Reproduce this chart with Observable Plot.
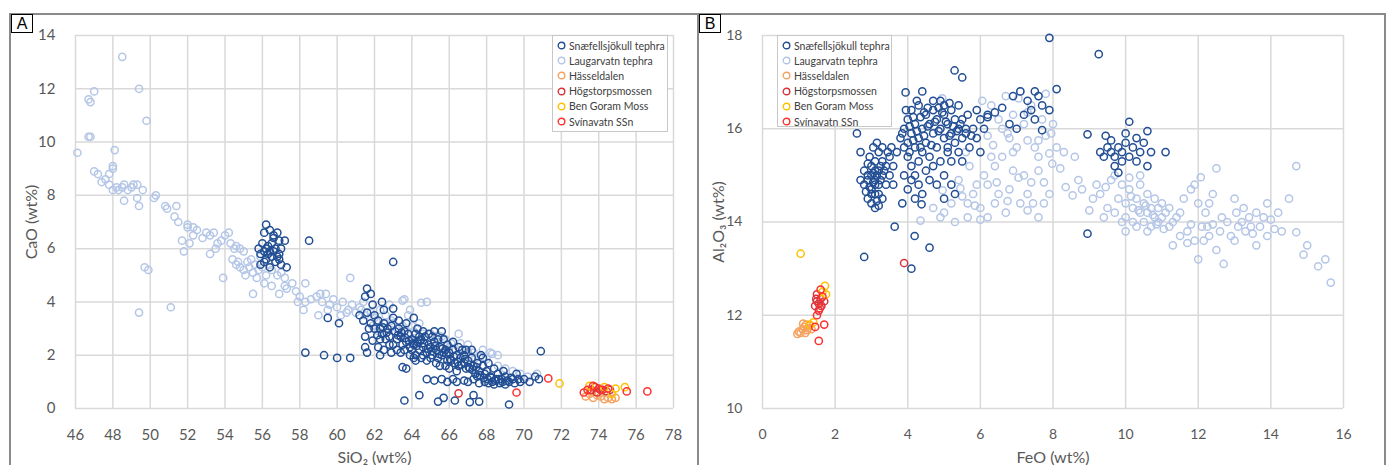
<!DOCTYPE html>
<html><head><meta charset="utf-8">
<script src="https://cdn.jsdelivr.net/npm/d3@7"></script>
<script src="https://cdn.jsdelivr.net/npm/@observablehq/plot@0.6"></script>
<style>
body{margin:0;background:#fff;font-family:Lato,"Open Sans",sans-serif;}
#wrap{position:relative;width:1389px;height:465px;overflow:hidden;background:#fff;}
.frame{position:absolute;top:13px;height:470px;border:2px solid #8a8a8a;box-sizing:border-box;}
.tag{position:absolute;top:14px;width:22px;height:19px;border:1.5px solid #000;box-sizing:border-box;background:#fff;font:16px "Liberation Sans",Arial,sans-serif;line-height:17px;text-align:center;color:#000;z-index:3;}
.chart{position:absolute;top:14px;}
.legend{position:absolute;background:#fff;border:1px solid #c8c8c8;box-sizing:border-box;z-index:2;padding:2px 0 0 4px;}
.legend div{height:15.2px;display:flex;align-items:center;font-size:10.5px;color:#404040;white-space:nowrap;}
.legend svg{margin-right:3px;}
g[aria-label="x-axis label"] text, g[aria-label="y-axis label"] text{font-size:16px;}
</style></head>
<body><div id="wrap"></div>
<script>
// ---------- series names & colours ----------
const seriesNames = ["Snæfellsjökull tephra","Laugarvatn tephra","Hässeldalen","Högstorpsmossen","Ben Goram Moss","Svínavatn SSn"];
const seriesColors = ["#224e94","#b4c6e7","#f5a25f","#d9343c","#ffc000","#ff3030"];

// ---------- axis ticks ----------
const xTicksA = [46,48,50,52,54,56,58,60,62,64,66,68,70,72,74,76,78];
const yTicksA = [0,2,4,6,8,10,12,14];
const xTicksB = [0,2,4,6,8,10,12,14,16];
const yTicksB = [10,12,14,16,18];

// ---------- Panel A : SiO2 vs CaO ----------
const laugA = [[46.1,9.6],[46.7,11.6],[46.8,11.5],[47.0,11.9],[46.7,10.2],[46.8,10.2],[47.0,8.9],[47.2,8.8],[47.4,8.5],[47.6,8.6],[47.8,8.4],[47.8,8.8],[48.0,9.0],[48.0,9.1],[48.1,9.7],[48.0,8.2],[48.2,8.3],[48.3,8.2],[48.5,8.3],[48.6,7.8],[48.6,8.4],[48.8,8.2],[49.0,8.3],[49.1,8.4],[49.3,8.4],[49.3,7.9],[49.4,7.6],[49.4,12.0],[48.5,13.2],[49.8,10.8],[49.6,8.2],[50.2,7.9],[50.3,8.0],[50.8,7.6],[50.9,7.5],[51.3,7.2],[51.5,7.0],[51.4,7.6],[52.0,6.9],[52.0,6.8],[52.3,6.8],[52.5,6.7],[51.7,6.3],[51.8,5.9],[52.1,6.2],[52.3,6.5],[52.8,6.4],[53.0,6.6],[53.2,6.5],[53.4,6.6],[53.6,6.2],[53.8,6.3],[54.0,6.5],[54.2,6.6],[54.3,6.2],[53.5,6.0],[53.2,5.8],[54.5,6.0],[54.6,6.1],[54.8,6.0],[55.0,5.9],[54.4,5.6],[54.6,5.4],[54.8,5.3],[55.0,5.2],[55.2,5.5],[55.3,5.3],[55.5,5.1],[55.6,5.4],[55.8,5.2],[56.0,5.3],[56.2,5.0],[56.4,5.4],[55.4,5.6],[55.9,5.7],[56.5,5.2],[56.8,5.0],[57.0,5.1],[57.2,4.9],[54.7,5.5],[55.1,5.0],[55.7,4.9],[56.1,4.7],[56.5,4.6],[57.2,4.6],[57.3,4.5],[57.6,4.7],[57.8,4.4],[58.0,4.2],[58.3,4.0],[58.6,4.1],[58.9,4.2],[59.2,4.0],[59.4,4.3],[59.6,3.9],[59.8,4.1],[60.0,3.8],[60.3,4.0],[60.6,3.7],[60.8,3.9],[61.0,3.6],[61.2,3.8],[61.5,3.5],[61.8,3.6],[62.0,3.4],[62.3,3.7],[62.6,3.2],[62.9,3.3],[63.2,3.0],[63.5,3.1],[63.8,3.5],[64.1,2.9],[64.4,3.2],[64.7,2.6],[65.0,2.8],[65.3,2.4],[65.6,2.7],[66.0,2.3],[66.3,2.2],[66.7,2.0],[67.0,2.4],[67.4,1.9],[67.8,2.2],[68.2,2.1],[68.6,1.6],[69.0,1.5],[69.4,1.4],[69.8,1.3],[70.2,1.2],[70.7,1.3],[60.7,4.9],[58.3,4.7],[59.1,4.3],[51.1,3.8],[49.4,3.6],[49.9,5.2],[49.7,5.3],[53.9,4.9],[55.5,4.3],[58.2,3.7],[59.0,3.5],[63.5,4.05],[64.5,3.97],[64.8,4.0],[63.6,4.1],[62.5,2.8],[64.0,2.5],[65.8,2.6],[66.5,2.8],[67.3,2.1],[68.6,2.0],[68.3,2.05],[65.2,2.3],[63.9,3.7],[62.8,3.9],[61.4,4.0],[60.2,3.5],[59.5,3.7],[57.9,4.0],[56.9,4.3],[61.9,3.1],[62.2,2.9],
[63.0,3.2],[63.6,3.0],[64.0,3.1],[64.6,2.8],[65.0,2.55],[65.4,2.75],[66.1,2.45],[66.6,2.45],[67.0,2.15],[67.6,1.95],[68.0,1.85],[62.1,3.3],[62.6,3.5],[61.3,3.7],[60.5,3.6]];

const snaeA = [[56.2,6.9],[56.1,6.6],[56.4,6.7],[56.6,6.5],[56.8,6.6],[56.9,6.3],[57.2,6.3],[56.0,6.2],[56.3,6.1],[56.5,6.2],[56.7,6.0],[55.8,6.0],[55.9,5.8],[56.1,5.9],[56.2,6.0],[56.3,5.8],[56.4,5.9],[56.5,5.7],[56.6,5.9],[56.8,5.7],[56.9,5.8],[56.2,5.6],[56.7,5.5],[56.9,5.6],[57.0,5.4],[57.3,5.3],[56.4,5.3],[56.1,5.5],[55.9,5.4],[57.0,6.0],[58.5,6.3],[56.6,6.4],
[58.3,2.1],[59.3,2.0],[60.0,1.9],[60.7,1.9],[59.5,3.4],[60.1,3.2],[61.5,4.2],[61.6,4.5],[61.8,4.3],[61.9,3.9],[62.4,4.0],[62.5,3.7],[63.0,3.75],[63.0,5.5],[63.0,3.4],[64.1,3.4],[61.9,2.55],[61.5,2.3],[61.6,2.1],[62.3,2.0],[63.5,1.55],[63.7,1.5],[64.2,1.8],[63.6,0.3],[64.4,0.5],[65.4,0.26],[65.7,0.4],[66.3,0.3],[67.1,0.24],[67.3,0.5],[67.6,0.26],[69.2,0.15],[70.9,2.15],
[61.2,3.5],[61.4,3.3],[61.6,3.6],[61.8,3.2],[62.0,3.5],[61.7,3.0],[62.0,3.0],[61.5,2.7],
[62.2,3.3],[62.3,3.0],[62.4,2.8],[62.5,3.2],[62.6,2.6],[62.7,3.0],[62.8,2.7],[62.9,3.1],[62.2,2.3],[62.5,2.2],[62.8,2.4],[62.9,2.1],[62.3,2.6],
[63.1,2.9],[63.2,2.6],[63.3,3.0],[63.4,2.7],[63.5,2.4],[63.6,2.9],[63.7,2.5],[63.8,2.8],[63.9,2.3],[63.2,2.2],[63.4,2.1],[63.6,2.2],[63.9,2.0],[63.3,3.3],[63.7,3.2],[63.0,2.4],
[64.0,2.6],[64.1,2.4],[64.2,2.8],[64.3,2.5],[64.4,2.2],[64.5,2.6],[64.6,2.3],[64.7,2.7],[64.8,2.1],[64.9,2.4],[64.2,2.0],[64.5,1.9],[64.8,1.8],[64.3,3.0],[64.6,2.9],[64.0,2.2],[64.4,2.7],[64.9,2.8],[64.1,1.9],[64.6,2.0],
[65.0,2.3],[65.1,2.0],[65.2,2.5],[65.3,2.2],[65.4,1.9],[65.5,2.3],[65.6,2.0],[65.7,2.6],[65.8,2.2],[65.9,1.8],[65.1,2.7],[65.4,2.6],[65.6,2.9],[65.3,1.7],[65.8,1.6],[65.0,1.9],[65.9,2.4],[65.2,2.9],[65.5,1.6],[65.7,2.1],
[66.0,2.1],[66.1,1.8],[66.2,2.2],[66.3,1.7],[66.4,2.0],[66.5,1.6],[66.6,1.9],[66.7,2.2],[66.8,1.7],[66.9,1.5],[66.2,2.5],[66.5,2.3],[66.8,2.0],[66.0,1.5],[66.4,1.4],[66.9,2.2],
[67.0,1.8],[67.1,1.5],[67.2,1.9],[67.3,1.6],[67.4,1.3],[67.5,1.7],[67.6,1.4],[67.7,2.0],[67.8,1.6],[67.9,1.3],[67.2,2.2],[67.5,1.2],[67.8,1.9],
[68.0,1.4],[68.2,1.2],[68.4,1.5],[68.6,1.3],[68.8,1.1],[68.1,1.7],[68.5,1.1],[68.9,1.4],[68.3,1.0],
[69.0,1.2],[69.2,1.0],[69.4,1.1],[69.6,1.3],[69.8,1.0],[70.0,1.1],[70.3,1.0],[70.6,1.2],[70.8,1.1],[69.5,0.95],
[65.6,1.1],[65.9,1.0],[66.2,1.1],[66.4,1.0],[66.8,1.05],[67.0,1.0],[67.3,1.1],[67.6,0.95],[67.9,1.0],[68.1,0.95],[68.4,0.9],[68.7,0.95],[69.0,0.9],[64.8,1.1],[65.2,1.05],
[64.05,2.45],[64.25,2.35],[64.45,2.55],[64.65,2.45],[64.85,2.25],[65.05,2.15],[65.25,2.35],[65.45,2.05],[65.65,2.25],[65.85,2.05],[66.05,1.85],[66.25,1.95],[66.45,1.75],[66.65,1.65],[66.85,1.85],[67.05,1.55],[67.25,1.45],[67.45,1.55],[67.65,1.25],[67.85,1.15],[68.05,1.1],[68.25,1.15],[68.45,1.05],[68.65,1.1],[68.85,1.0],[69.1,1.05],[69.3,1.15],[69.7,1.1],[63.45,2.85],[63.65,2.65],[63.85,2.55],[63.25,2.75],[62.65,2.85],[62.45,3.05],[62.15,2.75]];

const hassA = [[73.3,0.45],[73.5,0.55],[73.7,0.4],[73.9,0.5],[74.1,0.45],[74.3,0.35],[74.5,0.4],[74.7,0.35],[73.6,0.65],[74.0,0.6],[74.9,0.4]];
const hogA  = [[73.6,0.7],[73.8,0.8],[74.0,0.75],[74.2,0.7],[74.4,0.65],[73.9,0.6],[74.6,0.7],[66.5,0.57]];
const benA  = [[71.9,0.94],[75.4,0.8],[74.9,0.75],[74.3,0.8],[73.5,0.85],[74.7,0.55]];
const svinA = [[69.6,0.6],[71.3,1.13],[75.5,0.64],[76.6,0.64],[73.4,0.7],[73.7,0.85],[74.1,0.7],[74.5,0.75],[73.2,0.6]];

// ---------- Panel B : FeO vs Al2O3 ----------
const laugB = [[4.35,14.03],[4.96,14.68],[5.45,14.72],[5.8,14.6],[6.2,14.8],[5.65,14.4],[5.2,14.4],[6.0,14.3],[6.5,14.6],[6.8,14.7],[7.2,15.0],[6.9,15.1],[6.6,15.4],[6.35,15.65],[6.2,15.85],[6.75,15.9],[7.3,15.75],[7.8,15.85],[7.9,15.47],[7.6,15.4],[7.98,15.25],[7.4,14.85],[7.75,14.85],[7.1,14.4],[7.3,14.25],[7.75,14.4],[5.65,14.1],[6.0,14.05],[6.2,14.1],[7.1,16.8],[6.7,16.7],[7.05,16.65],[4.95,16.65],[6.5,16.2],[6.9,16.3],[7.2,16.1],[7.5,15.6],[7.0,15.6],[6.4,15.2],[6.1,15.0],[5.7,15.2],[5.4,14.9],[6.7,14.2],[6.4,14.4],[7.6,14.1],[7.9,14.6],[8.1,15.6],[8.0,16.1],[7.7,16.2],[6.8,15.8],[5.9,14.8],[7.4,16.5],[7.8,16.75],[6.3,16.5],[6.05,16.6],[4.7,14.3],[5.0,14.2],[8.35,14.75],[8.54,14.57],[9.0,14.25],[8.8,14.7],[4.9,14.1],[5.3,14.0],[7.3,14.6],[7.6,15.1],
[9.3,14.6],[9.5,14.3],[9.6,14.9],[9.7,14.2],[9.8,14.5],[9.9,14.8],[10.0,14.1],[10.0,14.4],[10.1,14.7],[10.2,14.3],[10.2,14.0],[10.3,14.5],[10.4,14.2],[10.4,14.8],[10.5,14.4],[10.5,14.0],[10.6,14.6],[10.6,14.2],[10.7,14.3],[10.7,13.9],[10.8,14.5],[10.8,14.1],[10.9,14.3],[10.9,14.0],[11.0,14.4],[11.0,14.1],[11.1,14.2],[11.2,13.9],[11.2,14.3],[11.3,14.0],[10.3,13.9],[10.0,13.8],[9.9,14.0],[10.6,13.8],[11.4,14.1],[9.4,14.1],[9.2,14.8],[10.4,15.0],[9.7,15.0],[10.1,14.95],[8.2,15.15],[8.6,15.4],
[11.5,13.7],[11.7,13.8],[11.8,14.7],[11.9,13.6],[12.07,14.96],[12.1,13.9],[12.2,14.2],[12.25,13.9],[12.3,13.7],[12.5,15.15],[12.5,13.4],[12.6,13.8],[12.7,13.1],[12.8,14.0],[12.9,13.7],[13.0,14.5],[13.1,13.9],[13.25,14.3],[13.3,13.8],[13.4,14.1],[13.5,13.75],[13.6,14.2],[13.7,13.9],[13.9,14.4],[13.9,13.7],[14.1,13.85],[14.3,13.8],[14.5,14.5],[14.7,15.2],[14.7,13.78],[15.0,13.5],[14.9,13.3],[15.3,13.05],[15.5,13.2],[15.65,12.7],[11.6,14.5],[11.9,14.8],[12.0,14.4],[12.4,14.6],[13.0,13.6],[13.2,14.0],[13.6,13.5],[14.0,14.05],[11.3,13.5],[11.8,13.95],[12.4,13.95],[12.0,13.2],
[6.6,16.0],[6.9,15.5],[7.3,16.35],[7.6,15.75],[7.95,15.9],[6.45,14.85],[6.75,14.45],[7.05,14.95],[7.45,14.4],[5.5,14.55],[5.85,14.35],[8.3,15.5],[8.7,14.9],[9.1,14.5],[9.45,14.75],[10.15,14.55],[10.35,14.25],[10.55,14.35],[10.75,14.15],[10.85,13.95],[11.05,13.85],[11.5,14.2],[12.15,13.6],[12.65,14.1],[13.05,14.2],[13.45,13.9],[13.8,14.1],[14.2,14.2],[12.3,14.4],[11.7,13.55],[5.6,15.5],[6.3,15.4]];

const snaeB = [[2.8,14.8],[2.9,15.0],[3.0,14.7],[3.1,14.9],[3.2,15.1],[3.0,15.2],[2.9,14.5],[3.1,14.6],[3.2,14.8],[3.3,15.0],[3.0,14.4],[3.1,15.3],[3.2,15.5],[3.3,15.3],[3.4,15.2],[3.4,14.8],[2.8,15.1],[2.9,14.9],[3.0,15.0],[3.1,15.1],[3.2,14.6],[3.3,14.5],[3.0,14.6],[3.1,14.8],[2.95,15.4],[3.05,15.6],[3.15,15.7],[3.5,15.4],[3.6,15.2],[3.7,15.5],[3.5,15.0],[3.3,15.6],[2.7,14.9],[3.1,14.3],[3.2,14.35],[2.6,15.9],[2.7,15.5],[3.6,14.8],[3.9,15.0],[3.85,14.4],
[3.8,15.8],[3.9,16.0],[4.0,15.7],[4.0,16.2],[4.1,15.9],[4.1,16.4],[4.2,15.6],[4.2,16.1],[4.3,15.8],[4.3,16.5],[4.4,16.0],[4.4,15.5],[4.5,16.3],[4.5,15.7],[4.6,16.1],[4.6,15.4],[4.7,16.4],[4.7,15.9],[4.8,16.2],[4.8,15.6],[4.9,16.0],[4.9,16.6],[5.0,15.8],[5.0,16.3],[5.1,16.1],[5.1,15.5],[5.2,16.4],[5.2,15.9],[5.3,16.2],[5.3,15.7],[5.4,16.0],[5.4,16.5],[5.5,15.8],[5.5,16.2],[5.6,16.0],[5.6,15.9],[3.9,15.6],[4.0,15.4],[4.1,15.2],[4.2,15.0],[4.3,14.8],[4.4,14.6],[4.2,14.5],[4.5,15.1],[4.6,14.9],[4.7,15.2],[4.8,14.8],[4.9,15.3],[5.0,15.0],[4.1,14.9],[4.0,14.7],[4.3,15.3],[3.95,16.4],[4.25,16.6],[4.4,16.8],[3.94,16.78],[4.7,16.6],[5.0,16.5],[5.29,17.25],[5.5,17.1],[4.38,14.38],[4.19,13.7],[3.64,13.9],[4.6,13.45],[4.1,13.0],[2.8,13.25],
[5.1,15.6],[5.2,15.3],[5.4,15.5],[5.5,15.3],[5.7,15.6],[5.8,16.0],[5.9,15.8],[6.0,16.2],[5.9,16.4],[6.1,16.0],[6.2,16.3],[6.0,15.5],[5.0,14.5],[5.2,14.8],[5.3,14.6],
[6.2,16.25],[6.4,16.35],[6.6,16.45],[6.9,16.7],[7.1,16.8],[7.3,16.6],[7.5,16.8],[7.7,16.5],[7.2,16.3],[7.4,16.4],[8.1,16.85],[7.9,17.95],[6.8,16.1],[7.0,16.0],[7.7,15.97],[7.5,16.2],[7.9,16.4],[7.6,16.7],
[9.26,17.6],[8.95,15.88],[8.95,13.75],[9.3,15.5],[9.4,15.4],[9.5,15.6],[9.6,15.5],[9.7,15.4],[9.8,15.6],[9.9,15.5],[10.0,15.7],[10.1,15.4],[10.2,15.6],[10.3,15.8],[10.4,15.5],[10.5,15.7],[10.6,15.95],[10.1,16.15],[9.8,15.06],[9.7,15.2],[10.6,15.2],[11.1,15.5],[10.7,15.5],[9.6,15.75],[10.0,15.9],[10.3,15.3],[9.9,15.3],[9.45,15.85],
[4.05,16.05],[4.15,15.75],[4.25,15.95],[4.35,16.25],[4.45,15.85],[4.55,16.05],[4.65,15.65],[4.75,16.15],[4.85,15.95],[4.95,16.35],[5.05,16.15],[5.15,15.85],[5.25,16.05],[5.35,15.95],[5.45,16.1],[4.55,16.45],[4.35,15.6],[3.85,15.9],[4.05,15.5],[4.85,16.45],[5.15,16.55],[5.65,16.3],[5.75,15.85],[4.15,16.25],[4.45,16.35],[2.95,14.75],[3.05,14.85],[3.15,15.0],[3.25,14.9],[3.05,15.05],[2.85,14.65],[3.35,15.1],[3.15,14.45],[3.45,15.5],[3.55,15.6],[3.25,15.2],[2.9,15.25]];

const hassB = [[0.96,11.6],[1.05,11.62],[1.1,11.7],[1.15,11.75],[1.2,11.8],[1.25,11.72],[1.3,11.78],[1.0,11.65],[1.18,11.62],[1.35,11.7],[1.12,11.82],[1.22,11.68]];
const hogB  = [[1.45,12.2],[1.5,12.3],[1.55,12.25],[1.6,12.35],[1.5,12.45],[1.62,12.2],[1.55,12.1],[1.7,12.3],[3.9,13.12],[1.48,12.35]];
const benB  = [[1.05,13.32],[1.72,12.63],[1.75,12.45],[1.3,11.8],[1.4,11.85],[1.65,12.5]];
const svinB = [[1.55,11.45],[1.7,11.8],[1.5,12.0],[1.6,12.55],[1.45,11.75],[1.58,12.15],[1.65,12.4]];

// ---------- helpers ----------
const gridStyle = {stroke:"#d9d9d9", strokeOpacity:1, strokeWidth:1.5};
function dots(data, color) {
  return Plot.dot(data, {x: d => d[0], y: d => d[1], r: 3.6, stroke: color, strokeWidth: 1.5, fill: "none"});
}
const baseStyle = {fontFamily:"Lato, 'Open Sans', sans-serif", fontSize:"14px", color:"#595959", background:"transparent", overflow:"visible"};

const chartA = Plot.plot({
  width: 687, height: 451, marginLeft: 65, marginTop: 21, marginRight: 24, marginBottom: 57,
  style: baseStyle,
  x: {domain: [46, 78]},
  y: {domain: [0, 14]},
  marks: [
    Plot.gridX(xTicksA, gridStyle),
    Plot.gridY(yTicksA, gridStyle),
    Plot.axisX(xTicksA, {tickSize: 0, tickPadding: 21, fontSize: 15, label: "SiO₂ (wt%)", labelAnchor: "center", labelArrow: "none", labelOffset: 54}),
    Plot.axisY(yTicksA, {tickSize: 0, tickPadding: 20, fontSize: 15, label: "CaO (wt%)", labelAnchor: "center", labelArrow: "none", labelOffset: 50}),
    dots(laugA, seriesColors[1]),
    dots(snaeA, seriesColors[0]),
    dots(hassA, seriesColors[2]),
    dots(hogA, seriesColors[3]),
    dots(benA, seriesColors[4]),
    dots(svinA, seriesColors[5])
  ]
});

const chartB = Plot.plot({
  width: 686, height: 451, marginLeft: 63, marginTop: 21, marginRight: 42, marginBottom: 57,
  style: baseStyle,
  x: {domain: [0, 16]},
  y: {domain: [10, 18]},
  marks: [
    Plot.gridX(xTicksB, gridStyle),
    Plot.gridY(yTicksB, gridStyle),
    Plot.axisX(xTicksB, {tickSize: 0, tickPadding: 21, fontSize: 14, label: "FeO (wt%)", labelAnchor: "center", labelArrow: "none", labelOffset: 54}),
    Plot.axisY(yTicksB, {tickSize: 0, tickPadding: 20, fontSize: 14, label: "Al₂O₃ (wt%)", labelAnchor: "center", labelArrow: "none", labelOffset: 50}),
    dots(laugB, seriesColors[1]),
    dots(snaeB, seriesColors[0]),
    dots(hassB, seriesColors[2]),
    dots(hogB, seriesColors[3]),
    dots(benB, seriesColors[4]),
    dots(svinB, seriesColors[5])
  ]
});

// ---------- assemble ----------
const wrap = document.getElementById("wrap");
function add(html){ const d=document.createElement("div"); d.innerHTML=html; const el=d.firstElementChild; wrap.appendChild(el); return el; }
add('<div class="frame" style="left:9px;width:690px"></div>');
add('<div class="frame" style="left:697px;width:689px"></div>');
const ca = add('<div class="chart" style="left:10px"></div>'); ca.appendChild(chartA);
const cb = add('<div class="chart" style="left:699px"></div>'); cb.appendChild(chartB);
add('<div class="tag" style="left:11px">A</div>');
add('<div class="tag" style="left:699px">B</div>');

function legend(left, top, w, h){
  const items = seriesNames.map((n,i)=>`<div><svg width="9" height="9"><circle cx="4.5" cy="4.5" r="3.3" fill="none" stroke="${seriesColors[i]}" stroke-width="1.4"/></svg>${n}</div>`).join("");
  add(`<div class="legend" style="left:${left}px;top:${top}px;width:${w}px;height:${h}px">${items}</div>`);
}
legend(552, 35, 116, 97);
legend(777, 35, 115, 92);
</script>
</body></html>
